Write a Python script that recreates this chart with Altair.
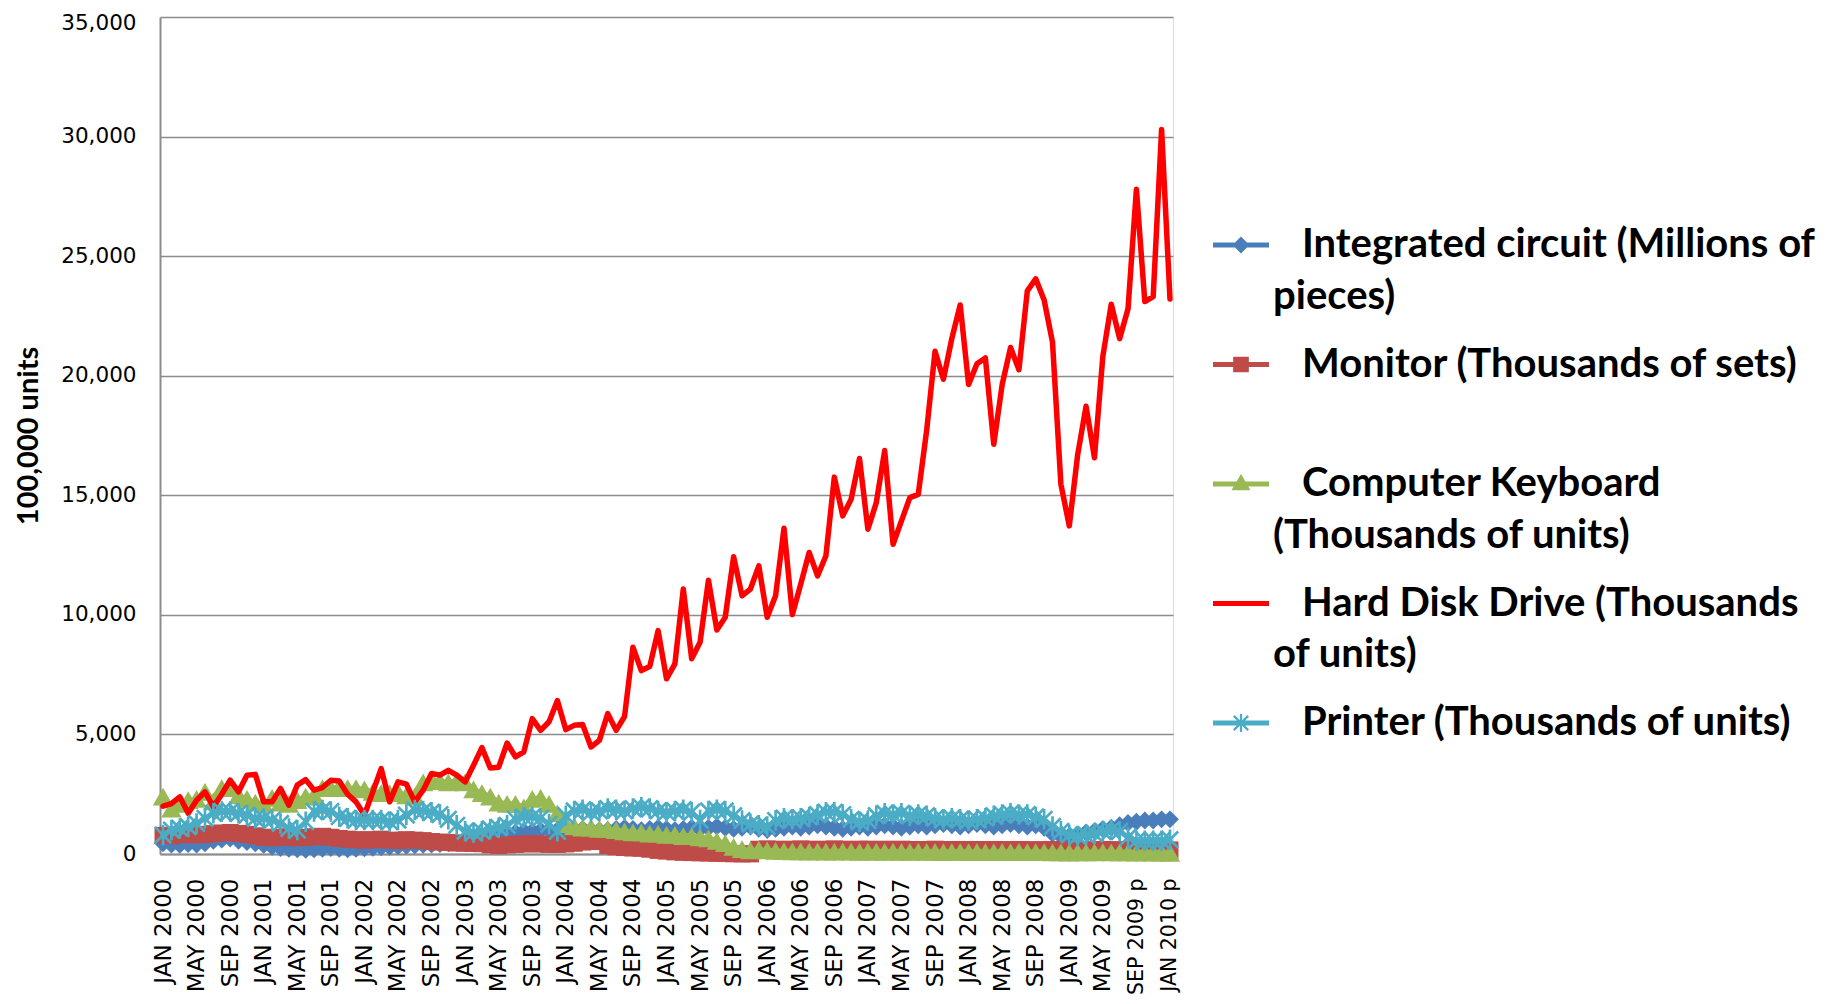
import altair as alt
import pandas as pd

# ---------------- data ----------------
MONTHS = ["JAN", "FEB", "MAR", "APR", "MAY", "JUN", "JUL", "AUG", "SEP", "OCT", "NOV", "DEC"]
periods = [f"{MONTHS[i % 12]} {2000 + i // 12}" + (" p" if i >= 116 else "") for i in range(121)]

names = [
    "Integrated circuit (Millions of pieces)",
    "Monitor (Thousands of sets)",
    "Computer Keyboard (Thousands of units)",
    "Hard Disk Drive (Thousands of units)",
    "Printer (Thousands of units)",
]

integrated_circuit = [
    450, 400, 380, 420, 400, 450, 550, 600, 650, 550, 500, 450,
    380, 300, 250, 220, 200, 180, 200, 220, 250, 220, 200, 220,
    240, 260, 280, 300, 320, 340, 360, 380, 400, 420, 450, 480,
    520, 560, 620, 700, 800, 850, 900, 950, 950, 980, 1000, 1000,
    1000, 1020, 1050, 1000, 980, 1000, 1050, 1100, 1050, 1000, 1050, 1100,
    1050, 1000, 1050, 1100, 1050, 1100, 1150, 1100, 1050, 1100, 1150, 1050,
    1000, 1050, 1100, 1150, 1100, 1150, 1200, 1150, 1100, 1050, 1100, 1150,
    1100, 1150, 1200, 1150, 1100, 1150, 1200, 1150, 1200, 1250, 1200, 1150,
    1200, 1250, 1200, 1150, 1200, 1250, 1200, 1150, 1200, 1100, 850, 750,
    750, 800, 900, 950, 1050, 1100, 1200, 1300, 1350, 1400, 1400, 1450,
    1450,
]
monitor = [
    780, 760, 800, 820, 800, 820, 850, 880, 900, 860, 820, 760,
    700, 680, 700, 720, 680, 700, 720, 740, 700, 650, 620, 600,
    580, 600, 620, 580, 560, 600, 580, 560, 520, 500, 480, 460,
    450, 440, 430, 380, 360, 380, 400, 420, 430, 420, 400, 400,
    420, 450, 500, 550, 520, 350, 300, 270, 250, 240, 200, 150,
    120, 90, 70, 60, 50, 40, 30, 20, 10, 5, 5, 200,
    210, 200, 190, 200, 210, 200, 190, 200, 210, 200, 190, 200,
    200, 190, 200, 190, 200, 190, 180, 190, 200, 190, 180, 190,
    180, 190, 180, 190, 180, 180, 190, 180, 170, 180, 190, 180,
    170, 180, 170, 180, 190, 180, 170, 180, 190, 180, 170, 180,
    170,
]
keyboard = [
    2400, 1900, 2100, 2250, 2300, 2600, 2200, 2750, 2750, 2450, 2300, 2150,
    2100, 2350, 2150, 2100, 2250, 2400, 2450, 2750, 2750, 2800, 2750, 2750,
    2700, 2600, 2550, 2550, 2600, 2450, 2400, 3000, 3100, 3050, 3000, 3050,
    3000, 2700, 2550, 2400, 2150, 2100, 2100, 1950, 2300, 2350, 2100, 1700,
    1250, 1150, 1100, 1100, 1050, 1050, 1000, 950, 900, 900, 850, 850,
    800, 800, 750, 750, 700, 650, 550, 450, 300, 200, 150, 180,
    150, 130, 120, 110, 110, 100, 110, 100, 100, 110, 100, 90,
    100, 100, 90, 100, 90, 90, 100, 90, 90, 80, 90, 90,
    80, 90, 80, 80, 90, 80, 90, 80, 80, 80, 70, 70,
    60, 70, 70, 70, 80, 70, 70, 70, 60, 70, 60, 60,
    50,
]
hard_disk = [
    2000, 2110, 2390, 1700, 2250, 2600, 1970, 2500, 3085, 2600, 3290, 3330,
    2180, 2180, 2740, 2040, 2880, 3110, 2670, 2780, 3085, 3050, 2500, 2180,
    1630, 2600, 3570, 2180, 3015, 2920, 2180, 2670, 3365, 3300, 3500, 3300,
    3015, 3710, 4450, 3600, 3630, 4640, 4060, 4270, 5660, 5170, 5530, 6420,
    5200, 5380, 5420, 4475, 4750, 5870, 5170, 5750, 8650, 7670, 7840, 9340,
    7325, 7950, 11080, 8160, 8850, 11450, 9370, 9900, 12430, 10800, 11080, 12050,
    9900, 10800, 13620, 10010, 11290, 12610, 11630, 12470, 15760, 14140, 14830, 16540,
    13580, 14690, 16870, 12950, 13930, 14900, 15040, 17700, 21020, 19850, 21550, 22960,
    19630, 20500, 20740, 17130, 19630, 21180, 20250, 23550, 24050, 23170, 21400, 15460,
    13720, 16700, 18720, 16570, 20810, 22990, 21550, 22800, 27800, 23100, 23310, 30300,
    23210,
]
printer = [
    790, 1000, 1070, 1140, 1280, 1490, 1700, 1780, 1780, 1700, 1630, 1490,
    1490, 1420, 1280, 1070, 1000, 1350, 1780, 1840, 1780, 1560, 1490, 1420,
    1420, 1420, 1420, 1350, 1420, 1630, 1840, 1800, 1750, 1650, 1450, 1200,
    950, 900, 950, 1050, 1100, 1200, 1450, 1550, 1550, 1500, 1250, 950,
    1600, 1800, 1850, 1750, 1800, 1900, 1850, 1800, 1900, 1950, 1900, 1800,
    1750, 1800, 1850, 1750, 1420, 1800, 1850, 1800, 1600, 1400, 1250, 1200,
    1150, 1400, 1500, 1450, 1500, 1550, 1650, 1750, 1750, 1650, 1450, 1350,
    1400, 1600, 1700, 1650, 1700, 1600, 1650, 1600, 1500, 1450, 1500, 1450,
    1400, 1450, 1500, 1600, 1650, 1700, 1650, 1650, 1550, 1450, 1150, 950,
    800, 750, 800, 850, 950, 1000, 950, 700, 550, 550, 550, 550,
    600,
]

series_values = [integrated_circuit, monitor, keyboard, hard_disk, printer]
for s in series_values:
    assert len(s) == len(periods)

rows = []
for name, vals in zip(names, series_values):
    for i, (p, v) in enumerate(zip(periods, vals)):
        rows.append({"period": p, "idx": i, "series": name, "value": v})
df = pd.DataFrame(rows)

# ---------------- styling ----------------
colors = ["#4A7EBB", "#BE4B48", "#98B954", "#FF0000", "#4BACC6"]
line_widths = [5, 5, 5, 5.5, 5]

ASTER = ("M-0.13,-1 L0.13,-1 L0.13,1 L-0.13,1 Z "
         "M-0.892,-0.708 L-0.708,-0.892 L0.892,0.708 L0.708,0.892 Z "
         "M-0.708,0.892 L-0.892,0.708 L0.708,-0.892 L0.892,-0.708 Z")
marker_shapes = ["diamond", "square", "triangle-up", None, ASTER]
marker_sizes = [320, 290, 420, 0, 420]

LINE = "M-1,-0.09 L1,-0.09 L1,0.09 L-1,0.09 Z"
legend_paths = [
    LINE + " M0,-0.3 L0.3,0 L0,0.3 L-0.3,0 Z",
    LINE + " M-0.28,-0.28 L0.28,-0.28 L0.28,0.28 L-0.28,0.28 Z",
    LINE + " M0,-0.36 L0.34,0.22 L-0.34,0.22 Z",
    LINE,
    LINE + " M-0.04,-0.32 L0.04,-0.32 L0.04,0.32 L-0.04,0.32 Z"
           " M-0.285,-0.227 L-0.227,-0.285 L0.285,0.227 L0.227,0.285 Z"
           " M-0.227,0.285 L-0.285,0.227 L0.227,-0.285 L0.285,-0.227 Z",
]

IND = "\u2800"  # blank glyph used as a non-trimmed indent
wrapped = [
    [IND + "Integrated circuit (Millions of", "pieces)"],
    [IND + "Monitor (Thousands of sets)", IND],
    [IND + "Computer Keyboard", "(Thousands of units)"],
    [IND + "Hard Disk Drive (Thousands", "of units)"],
    [IND + "Printer (Thousands of units)", IND],
]
expr = "[datum.label]"
for name, lines in reversed(list(zip(names, wrapped))):
    arr = "[" + ",".join("'" + l + "'" for l in lines) + "]"
    expr = f"datum.label == '{name}' ? {arr} : ({expr})"

GRID = "#8C8C8C"
x_enc = alt.X(
    "period:O",
    sort=periods,
    scale=alt.Scale(type="point", padding=0.36),
    axis=alt.Axis(
        values=periods[::4], labelAngle=270, labelFont="DejaVu Sans",
        labelFontSize={"condition": {"test": "indexof(datum.label, ' p') >= 0", "value": 20.5}, "value": 23},
        labelColor="#000000", labelPadding=24, ticks=False, domainColor=GRID, domainWidth=2,
        grid=False, title=None, labelOverlap=False,
    ),
)
y_enc = alt.Y(
    "value:Q",
    scale=alt.Scale(domain=[0, 35000], nice=False),
    axis=alt.Axis(
        values=list(range(0, 35001, 5000)), format=",.0f", grid=True, gridColor=GRID, gridWidth=1.6,
        domainColor=GRID, domainWidth=2, ticks=False, labelFont="DejaVu Sans", labelFontSize=21.5,
        labelOffset={"condition": {"test": "datum.value >= 35000", "value": 6}, "value": 0},
        labelColor="#000000", labelPadding=24, title="100,000 units", titleFont="Lato",
        titleFontSize=29, titleFontWeight="bold", titleColor="#000000", titleX=-132, titleY=418.5,
        titleAngle=270, titleAlign="center", titleBaseline="middle",
    ),
)
color_scale = alt.Scale(domain=names, range=colors)

legend = alt.Legend(
    title=None, orient="none", legendX=1053, legendY=200, symbolSize=3136, symbolStrokeWidth=0,
    symbolOpacity=1, labelFont="Lato", labelFontSize=40, labelFontWeight="bold", labelColor="#000000",
    labelLimit=800, labelExpr=expr, rowPadding=19.5, padding=0, labelOffset=4,
)

base = alt.Chart(df)
layers = [
    base.mark_point(filled=True, opacity=0).encode(
        x=x_enc, y=y_enc,
        color=alt.Color("series:N", scale=color_scale, legend=legend),
        shape=alt.Shape("series:N", scale=alt.Scale(domain=names, range=legend_paths), legend=legend),
    )
]
for name, shp, sz, lw in zip(names, marker_shapes, marker_sizes, line_widths):
    sub = base.transform_filter(alt.datum.series == name)
    layers.append(
        sub.mark_line(strokeWidth=lw, strokeJoin="round", strokeCap="round").encode(
            x=x_enc, y=y_enc, order=alt.Order("idx:Q"),
            color=alt.Color("series:N", scale=color_scale, legend=None),
        )
    )
    if shp is not None:
        layers.append(
            sub.mark_point(filled=True, opacity=1, shape=shp, size=sz, strokeWidth=0).encode(
                x=x_enc, y=y_enc,
                color=alt.Color("series:N", scale=color_scale, legend=None),
            )
        )

chart = alt.layer(*layers).properties(
    width=1013, height=837,
    autosize=alt.AutoSizeParams(type="none"),
    padding={"left": 152, "top": 9, "right": 650, "bottom": 142},
).configure_view(stroke=None).configure(style={"guide-label": {"lineHeight": 51.5}})

chart.save("out.html", embed_options={"renderer": "svg", "actions": False})
